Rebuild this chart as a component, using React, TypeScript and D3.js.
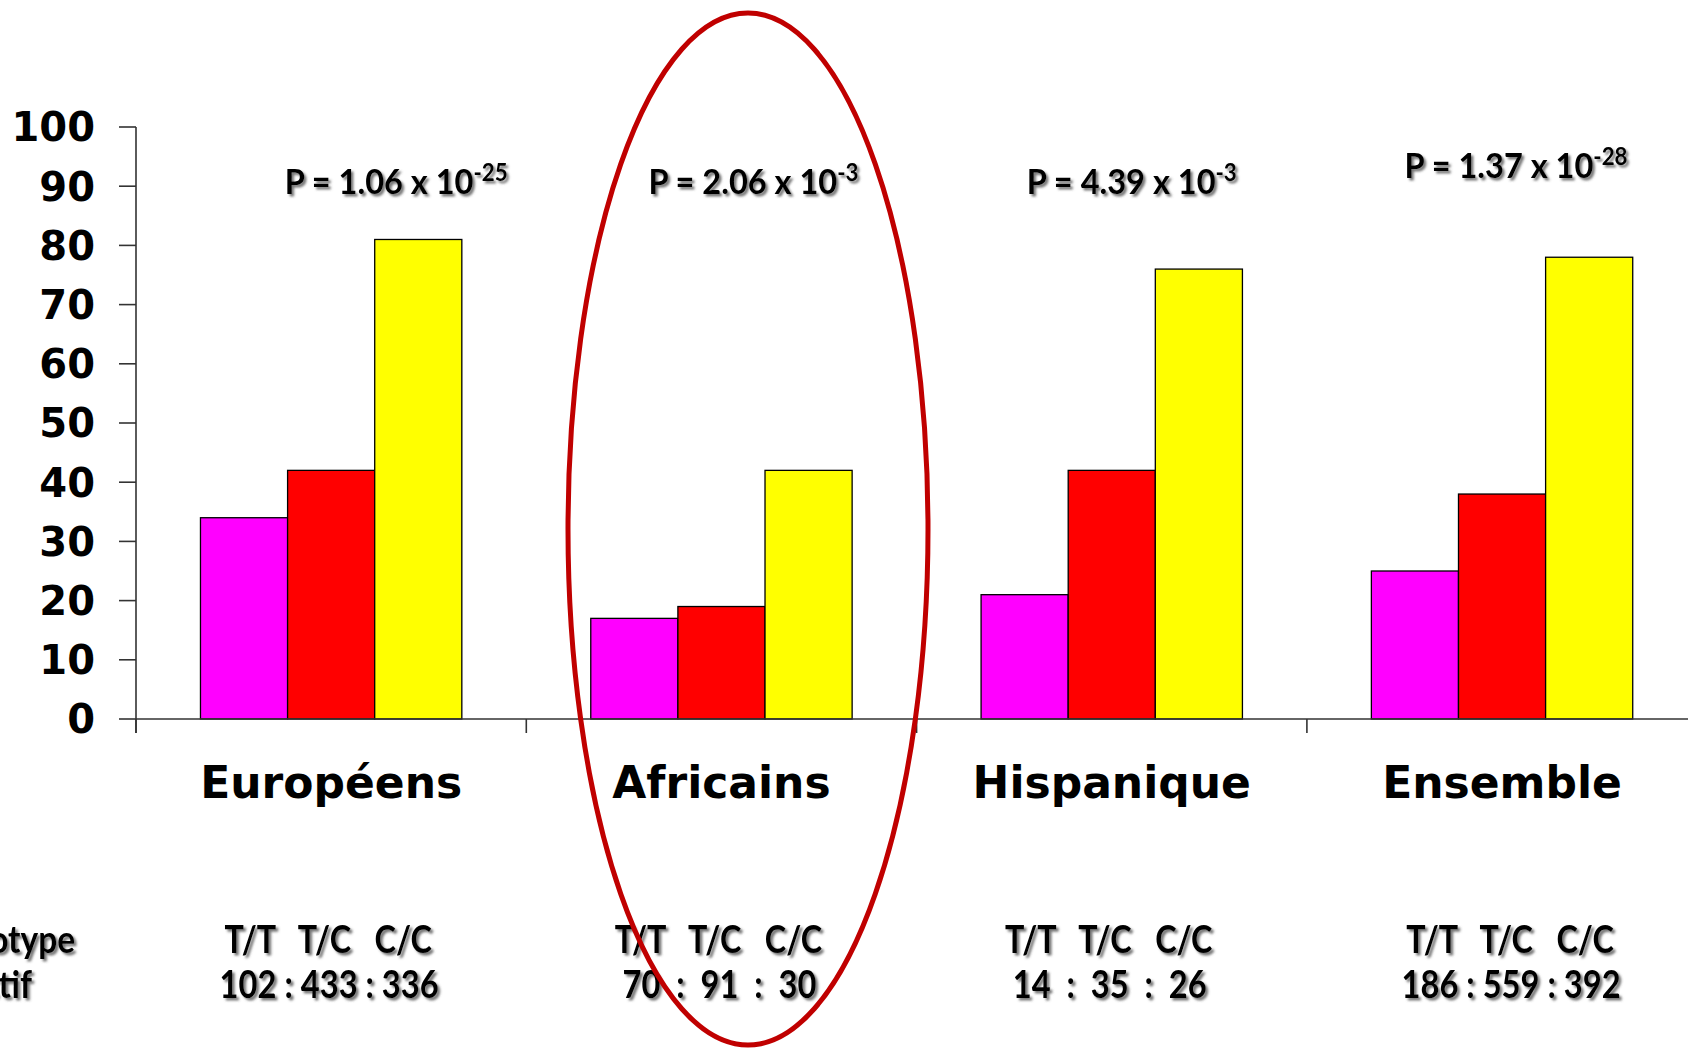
import React from "react";
import * as d3 from "d3";

const categories = ["Européens", "Africains", "Hispanique", "Ensemble"];
const genotypes = ["T/T", "T/C", "C/C"];
const valuesTT = [34, 17, 21, 25];
const valuesTC = [42, 19, 42, 38];
const valuesCC = [81, 42, 76, 78];
const countsTT = [102, 70, 14, 186];
const countsTC = [433, 91, 35, 559];
const countsCC = [336, 30, 26, 392];
const pMantissa = ["1.06", "2.06", "4.39", "1.37"];
const pExponent = ["-25", "-3", "-3", "-28"];
const yTicks = [0, 10, 20, 30, 40, 50, 60, 70, 80, 90, 100];
const colors = ["#FF00FF", "#FF0000", "#FFFF00"];

// layout tweaks (not data)
const pLabelDx = [65, 32, 20, 14];
const pLabelY = [194, 194, 194, 178];
const rowDx = [0, 0, 0, 11];

const W = 1688;
const H = 1048;
const axisX = 136;
const bandW = 390.3;
const yTop = 127;
const yBase = 719;

export default function App() {
  const x0 = d3
    .scaleBand<string>()
    .domain(categories)
    .range([axisX, axisX + bandW * categories.length])
    .padding(0);
  const x1 = d3
    .scaleBand<string>()
    .domain(genotypes)
    .range([0, x0.bandwidth()])
    .paddingInner(0)
    .paddingOuter(0.74);
  const y = d3.scaleLinear().domain([0, 100]).range([yBase, yTop]);

  const seriesVals = [valuesTT, valuesTC, valuesCC];
  const calibri = "Lato, 'Open Sans', sans-serif";
  const heavy = "'DejaVu Sans', sans-serif";

  const countStr = (i: number) => {
    const a = [countsTT[i], countsTC[i], countsCC[i]];
    const short = a.some((v) => v < 100);
    return a.join(short ? "  :  " : " : ");
  };

  return (
    <svg
      width={W}
      height={H}
      style={{ position: "absolute", left: 0, top: 0, background: "#fff" }}
    >
      <defs>
        <filter id="sh" x="-10%" y="-30%" width="130%" height="170%">
          <feDropShadow dx="2.5" dy="2.5" stdDeviation="1.2" floodColor="#555" floodOpacity="0.8" />
        </filter>
      </defs>
      <rect x={0} y={0} width={W} height={H} fill="#fff" />

      {/* bars */}
      {categories.map((c, ci) =>
        genotypes.map((g, gi) => {
          const v = seriesVals[gi][ci];
          const bx = (x0(c) ?? 0) + (x1(g) ?? 0);
          return (
            <rect
              key={c + g}
              x={bx}
              y={y(v)}
              width={x1.bandwidth()}
              height={yBase - y(v)}
              fill={colors[gi]}
              stroke="#000"
              strokeWidth={1.3}
            />
          );
        })
      )}

      {/* y axis */}
      <line x1={axisX} x2={axisX} y1={yTop} y2={yBase + 14} stroke="#333" strokeWidth={1.6} />
      {yTicks.map((t) => (
        <g key={t}>
          <line x1={axisX - 17} x2={axisX} y1={y(t)} y2={y(t)} stroke="#333" strokeWidth={1.6} />
          <text
            x={95}
            y={y(t)}
            dy="0.36em"
            textAnchor="end"
            fontFamily={heavy}
            fontWeight="bold"
            fontSize={40}
            fill="#000"
          >
            {t}
          </text>
        </g>
      ))}

      {/* x axis */}
      <line x1={axisX} x2={W} y1={yBase} y2={yBase} stroke="#333" strokeWidth={1.6} />
      {categories.map((c) => (
        <line
          key={"t" + c}
          x1={x0(c) ?? 0}
          x2={x0(c) ?? 0}
          y1={yBase}
          y2={yBase + 14}
          stroke="#333"
          strokeWidth={1.6}
        />
      ))}

      {/* category labels */}
      {categories.map((c) => (
        <text
          key={"l" + c}
          x={(x0(c) ?? 0) + x0.bandwidth() / 2}
          y={798}
          textAnchor="middle"
          fontFamily={heavy}
          fontWeight="bold"
          fontSize={44}
          fill="#000"
        >
          {c}
        </text>
      ))}

      {/* p values */}
      {categories.map((c, i) => {
        const cx = (x0(c) ?? 0) + x0.bandwidth() / 2 + pLabelDx[i];
        return (
          <g key={"p" + c} filter="url(#sh)" transform={`translate(${cx},${pLabelY[i]}) scale(0.93,1)`}>
            <text
              x={0}
              y={0}
              textAnchor="middle"
              fontFamily={calibri}
              fontWeight="bold"
              fontSize={35}
              fill="#000"
            >
              {"P = " + pMantissa[i] + " x 10"}
              <tspan dy={-13} fontSize={24}>
                {pExponent[i]}
              </tspan>
            </text>
          </g>
        );
      })}

      {/* genotype rows */}
      <g filter="url(#sh)">
        <text
          transform="translate(75,953) scale(0.88,1)"
          textAnchor="end"
          fontFamily={calibri}
          fontWeight="bold"
          fontSize={38}
        >
          Génotype
        </text>
        <text
          transform="translate(32,998) scale(0.88,1)"
          textAnchor="end"
          fontFamily={calibri}
          fontWeight="bold"
          fontSize={38}
        >
          Effectif
        </text>
        {categories.map((c, i) => {
          const cx = (x0(c) ?? 0) + x0.bandwidth() / 2 + rowDx[i];
          return (
            <g key={"g" + c}>
              <text
                transform={`translate(${cx - 3},953) scale(0.85,1)`}
                textAnchor="middle"
                fontFamily={calibri}
                fontWeight="bold"
                fontSize={38}
                style={{ whiteSpace: "pre" }}
              >
                {genotypes.join("   ")}
              </text>
              <text
                transform={`translate(${cx - 2},998) scale(0.86,1)`}
                textAnchor="middle"
                fontFamily={calibri}
                fontWeight="bold"
                fontSize={38}
                style={{ whiteSpace: "pre" }}
              >
                {countStr(i)}
              </text>
            </g>
          );
        })}
      </g>

      {/* red ellipse */}
      <ellipse cx={748} cy={529} rx={180} ry={516} fill="none" stroke="#C00000" strokeWidth={5} />
    </svg>
  );
}
